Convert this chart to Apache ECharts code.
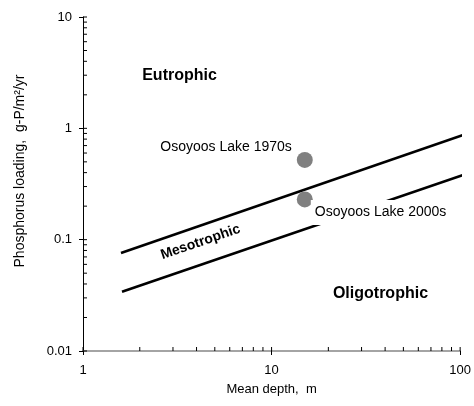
<!DOCTYPE html>
<html>
<head>
<meta charset="utf-8">
<script src="https://cdn.jsdelivr.net/npm/echarts@6/dist/echarts.min.js"></script>
<style>html,body{margin:0;padding:0;background:#fff}#c{width:474px;height:406px}</style>
</head>
<body>
<div id="c"></div>
<script>
// ---- data ----
const xRange = [1, 100];
const yRange = [0.01, 10];
const upperBoundary = [[1.59, 0.076], [104, 0.873]];
const lowerBoundary = [[1.61, 0.034], [104, 0.381]];
const lakeNames = ['Osoyoos Lake 1970s', 'Osoyoos Lake 2000s'];
const lakeDepth = [15, 15];
const lakeLoading = [0.52, 0.23];
const zoneNames = ['Eutrophic', 'Mesotrophic', 'Oligotrophic'];
const zoneX = [3.25, 4.2, 37.8];
const zoneY = [3.0, 0.095, 0.0325];
const xTickValues = [1, 2, 3, 4, 5, 6, 7, 8, 9, 10, 20, 30, 40, 50, 60, 70, 80, 90, 100];
const yTickValues = [0.01, 0.02, 0.03, 0.04, 0.05, 0.06, 0.07, 0.08, 0.09, 0.1, 0.2, 0.3, 0.4, 0.5, 0.6, 0.7, 0.8, 0.9, 1, 2, 3, 4, 5, 6, 7, 8, 9, 10];
const xTitle = 'Mean depth,  m';
const yTitle = 'Phosphorus loading,  g-P/m²/yr';

const FONT = 'Liberation Sans, Arial, sans-serif';
const chart = echarts.init(document.getElementById('c'));

const tickSeries = (vals, horizontal) => ({
  type: 'custom',
  coordinateSystem: 'cartesian2d',
  silent: true,
  clip: false,
  z: 5,
  data: vals.map(v => horizontal ? [v, yRange[0]] : [xRange[0], v]),
  renderItem: (params, api) => {
    const p = api.coord([api.value(0), api.value(1)]);
    return {
      type: 'line',
      shape: horizontal
        ? { x1: p[0], y1: p[1], x2: p[0], y2: p[1] - 4 }
        : { x1: p[0], y1: p[1], x2: p[0] + 4, y2: p[1] },
      style: { stroke: '#000', lineWidth: 1 }
    };
  }
});

chart.setOption({
  animation: false,
  backgroundColor: '#fff',
  grid: { left: 83, right: 12, top: 17, bottom: 55, containLabel: false },
  xAxis: {
    type: 'log', logBase: 10, min: xRange[0], max: xRange[1],
    name: xTitle, nameLocation: 'middle', nameGap: 32,
    nameTextStyle: { fontFamily: FONT, fontSize: 13, color: '#000' },
    axisLine: { lineStyle: { color: '#868686', width: 1.5 } },
    axisTick: { show: true, length: 4, lineStyle: { color: '#000' } },
    axisLabel: { fontFamily: FONT, fontSize: 13, color: '#000', margin: 13 },
    splitLine: { show: false },
    minorTick: { show: false }
  },
  yAxis: {
    type: 'log', logBase: 10, min: yRange[0], max: yRange[1],
    name: yTitle, nameLocation: 'middle', nameGap: 56, nameRotate: 90,
    nameTextStyle: { fontFamily: FONT, fontSize: 14, color: '#000', padding: [0, 0, 0, 26] },
    axisLine: { show: true, lineStyle: { color: '#000', width: 1 } },
    axisTick: { show: true, length: 4, lineStyle: { color: '#000' } },
    axisLabel: { fontFamily: FONT, fontSize: 13, color: '#000', margin: 11 },
    splitLine: { show: false }
  },
  series: [
    {
      type: 'line', data: upperBoundary, showSymbol: false, symbol: 'none', clip: false, z: 2,
      lineStyle: { color: '#000', width: 2.6 }, silent: true
    },
    {
      type: 'line', data: lowerBoundary, showSymbol: false, symbol: 'none', clip: false, z: 2,
      lineStyle: { color: '#000', width: 2.6 }, silent: true
    },
    {
      type: 'scatter', z: 3,
      symbolSize: 16,
      itemStyle: { color: '#808080', opacity: 1 },
      data: lakeNames.map((n, i) => ({
        name: n, value: [lakeDepth[i], lakeLoading[i]],
        label: i === 0
          ? { show: true, position: 'left', distance: 5, offset: [0, -13] }
          : { show: true, position: 'right', distance: 5, offset: [-7, 13], backgroundColor: '#fff', padding: [8, 4, 3, 4] }
      })),
      label: { formatter: '{b}', fontFamily: FONT, fontSize: 14, color: '#000' }
    },
    {
      type: 'scatter', z: 4, symbolSize: 0, silent: true,
      itemStyle: { opacity: 1 },
      data: zoneNames.map((n, i) => ({
        name: n, value: [zoneX[i], zoneY[i]],
        label: {
          show: true, position: 'inside', formatter: '{b}',
          fontFamily: FONT, fontWeight: 'bold', color: '#000',
          fontSize: i === 1 ? 14 : 16,
          rotate: i === 1 ? 19 : 0
        }
      }))
    },
    tickSeries(xTickValues, true),
    tickSeries(yTickValues, false)
  ]
});
</script>
</body>
</html>
